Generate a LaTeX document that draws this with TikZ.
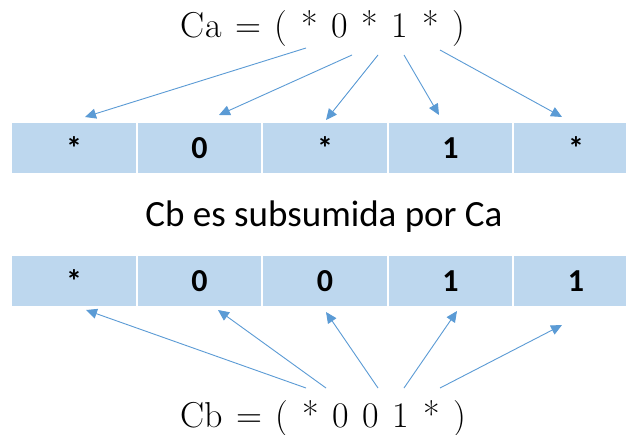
\documentclass[tikz,border=0pt]{standalone}
\usepackage{fontspec}
\newfontfamily\calib{Carlito}
\usetikzlibrary{arrows.meta}
\definecolor{cellblue}{HTML}{BDD7EE}
\definecolor{arrblue}{HTML}{5B9BD5}
\newcommand\gp{\hspace{0.38em}}
\begin{document}
\begin{tikzpicture}[x=1pt,y=-1pt,
  cell/.style={fill=cellblue, draw=none, minimum width=123.5pt, minimum height=50pt, inner sep=0pt, font=\calib\bfseries\fontsize{32}{34}\selectfont},
  conn/.style={draw=arrblue, line width=0.9pt, -{Triangle[length=11pt,width=10pt]}},
  eq/.style={font=\fontsize{36}{40}\selectfont, inner sep=0pt, anchor=base},
  mid/.style={font=\calib\fontsize{37}{40}\selectfont, inner sep=0pt, anchor=base}]
\useasboundingbox (0,0) rectangle (626,434);
\clip (0,0) rectangle (626,434);
\fill[white] (0,0) rectangle (626,434);
% top row
\node[cell] (a1) at (74,148) {*};
\node[cell] (a2) at (199.5,148) {0};
\node[cell] (a3) at (325,148) {*};
\node[cell] (a4) at (450.5,148) {1};
\node[cell] (a5) at (576,148) {*};
% bottom row
\node[cell] (b1) at (74,281) {*};
\node[cell] (b2) at (199.5,281) {0};
\node[cell] (b3) at (325,281) {0};
\node[cell] (b4) at (450.5,281) {1};
\node[cell] (b5) at (576,281) {1};
% texts
\node[eq] (ca) at (323,37) {Ca\gp=\gp(\gp*\gp0\gp*\gp1\gp*\gp)};
\node[mid] (sub) at (324,226) {Cb es subsumida por Ca};
\node[eq] (cb) at (323,427) {Cb\gp=\gp(\gp*\gp0\gp0\gp1\gp*\gp)};
% top arrow ends
\coordinate (sa1) at (306,48);
\coordinate (sa2) at (352,55);
\coordinate (sa3) at (378,55);
\coordinate (sa4) at (404,55);
\coordinate (sa5) at (440,50);
\coordinate (ta1) at (85,117);
\coordinate (ta2) at (219,115);
\coordinate (ta3) at (326,120);
\coordinate (ta4) at (439,115);
\coordinate (ta5) at (562,117);
% bottom arrow ends
\coordinate (sb1) at (306,388);
\coordinate (sb2) at (326,388);
\coordinate (sb3) at (378,388);
\coordinate (sb4) at (404,388);
\coordinate (sb5) at (440,388);
\coordinate (tb1) at (86,310);
\coordinate (tb2) at (218,310);
\coordinate (tb3) at (326,312);
\coordinate (tb4) at (457,311);
\coordinate (tb5) at (562,325);
\foreach \i in {1,...,5}{
  \draw[conn] (sa\i) -- (ta\i);
  \draw[conn] (sb\i) -- (tb\i);
}
\end{tikzpicture}
\end{document}
